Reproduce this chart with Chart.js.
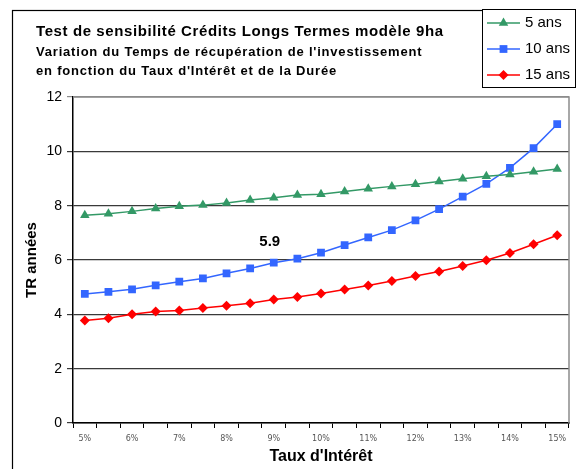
<!DOCTYPE html>
<html lang="fr">
<head>
<meta charset="utf-8">
<title>Test de sensibilité Crédits Longs Termes</title>
<script src="https://cdn.jsdelivr.net/npm/chart.js@4.4.0/dist/chart.umd.min.js"></script>
<style>
  html, body { margin: 0; padding: 0; background: #fff; }
  canvas { display: block; }
</style>
</head>
<body>
<canvas id="trChart" width="576" height="469"></canvas>
<script>
'use strict';

// DONNEES

// taux d'intérêt (catégories), seuls les taux entiers sont étiquetés
let tauxInteret = ['5%', '5,5%', '6%', '6,5%', '7%', '7,5%', '8%', '8,5%', '9%', '9,5%', '10%',
  '10,5%', '11%', '11,5%', '12%', '12,5%', '13%', '13,5%', '14%', '14,5%', '15%'];

// temps de récupération (années) par durée de crédit
let tr5ans = [7.65, 7.70, 7.79, 7.90, 7.98, 8.02, 8.10, 8.21, 8.29, 8.39, 8.42,
  8.52, 8.62, 8.71, 8.79, 8.89, 8.99, 9.08, 9.15, 9.25, 9.35];
let tr10ans = [4.75, 4.83, 4.92, 5.07, 5.20, 5.32, 5.51, 5.69, 5.9, 6.05, 6.27,
  6.55, 6.83, 7.10, 7.46, 7.87, 8.33, 8.80, 9.39, 10.12, 11.0];
let tr15ans = [3.77, 3.86, 4.00, 4.10, 4.14, 4.23, 4.32, 4.41, 4.55, 4.64, 4.77,
  4.91, 5.06, 5.23, 5.41, 5.58, 5.78, 5.99, 6.26, 6.58, 6.91];

let graduationsY = [0, 2, 4, 6, 8, 10, 12];

let titre = [
  'Test de sensibilité Crédits Longs Termes modèle 9ha',
  'Variation du Temps de récupération de l\'investissement',
  'en fonction du Taux d\'Intérêt et de la Durée'
];

// point de la série 10 ans dont la valeur est affichée
let indexEtiquette = 8;

// PLUGIN : cadre, titre, légende et étiquette

const cadrePlugin = {
  id: 'cadre',
  beforeDraw(chart) {
    let ctx = chart.ctx;
    ctx.save();
    ctx.fillStyle = '#fff';
    ctx.fillRect(0, 0, chart.width, chart.height);
    ctx.restore();
  },
  beforeDatasetsDraw(chart) {
    let ctx = chart.ctx;
    let area = chart.chartArea;
    ctx.save();
    ctx.strokeStyle = '#8c8c8c';
    ctx.lineWidth = 1.5;
    ctx.beginPath();
    ctx.moveTo(area.left, area.top);
    ctx.lineTo(area.right, area.top);
    ctx.lineTo(area.right, area.bottom);
    ctx.stroke();
    ctx.restore();
  },
  afterDraw(chart) {
    let ctx = chart.ctx;
    ctx.save();

    // cadre extérieur
    ctx.strokeStyle = '#000';
    ctx.lineWidth = 1.2;
    ctx.strokeRect(12.5, 10.5, 600, 500);

    // titre sur trois lignes
    ctx.fillStyle = '#000';
    ctx.textBaseline = 'middle';
    ctx.textAlign = 'left';
    ctx.font = 'bold 15px "Liberation Sans", Arial, sans-serif';
    ctx.letterSpacing = '0.6px';
    ctx.fillText(titre[0], 36, 32);
    ctx.font = 'bold 13px "Liberation Sans", Arial, sans-serif';
    ctx.letterSpacing = '0.8px';
    ctx.fillText(titre[1], 36, 52);
    ctx.fillText(titre[2], 36, 71);
    ctx.letterSpacing = '0px';

    // légende
    ctx.fillStyle = '#fff';
    ctx.fillRect(482, 9, 93, 78);
    ctx.strokeStyle = '#000';
    ctx.lineWidth = 1;
    ctx.strokeRect(482.5, 9.5, 93, 78);
    chart.data.datasets.forEach(function(ds, i) {
      let y = 23 + i * 26;
      ctx.strokeStyle = ds.borderColor;
      ctx.lineWidth = 1.5;
      ctx.beginPath();
      ctx.moveTo(487, y);
      ctx.lineTo(520, y);
      ctx.stroke();
      ctx.fillStyle = ds.backgroundColor;
      Chart.helpers.drawPoint(ctx, {pointStyle: ds.pointStyle, radius: ds.pointRadius, borderWidth: 0}, 503.5, y);
      ctx.fillStyle = '#000';
      ctx.font = '15px "Liberation Sans", Arial, sans-serif';
      ctx.fillText(ds.label, 525, y);
    });

    // valeur affichée au-dessus d'un point
    let pt = chart.getDatasetMeta(1).data[indexEtiquette];
    let valeur = chart.data.datasets[1].data[indexEtiquette];
    ctx.font = 'bold 15px "Liberation Sans", Arial, sans-serif';
    ctx.textAlign = 'center';
    ctx.fillStyle = '#000';
    ctx.fillText(valeur.toFixed(1), pt.x - 4, pt.y - 21);

    ctx.restore();
  }
};

// GRAPHIQUE

const data = {
  labels: tauxInteret,
  datasets: [
    {
      label: '5 ans',
      data: tr5ans,
      borderColor: '#339966',
      backgroundColor: '#339966',
      pointStyle: 'triangle',
      pointRadius: 5.5
    },
    {
      label: '10 ans',
      data: tr10ans,
      borderColor: '#3366ff',
      backgroundColor: '#3366ff',
      pointStyle: 'rect',
      pointRadius: 5.5
    },
    {
      label: '15 ans',
      data: tr15ans,
      borderColor: '#ff0000',
      backgroundColor: '#ff0000',
      pointStyle: 'rectRot',
      pointRadius: 5
    }
  ]
};

data.datasets.forEach(function(ds) {
  ds.borderWidth = 1.5;
  ds.pointBorderWidth = 0;
  ds.pointBorderColor = ds.borderColor;
  ds.pointBackgroundColor = ds.backgroundColor;
  ds.tension = 0;
});

const config = {
  type: 'line',
  data: data,
  options: {
    responsive: false,
    animation: false,
    layout: {
      padding: {left: 0, top: 97, right: 7, bottom: 0}
    },
    plugins: {
      legend: {display: false},
      tooltip: {enabled: false}
    },
    scales: {
      x: {
        offset: true,
        afterFit: function(scale) { scale.height = 46; },
        border: {color: '#000', width: 1.5},
        grid: {
          offset: true,
          drawOnChartArea: false,
          tickLength: 5,
          color: '#000'
        },
        ticks: {
          autoSkip: false,
          maxRotation: 0,
          padding: 6,
          color: '#555',
          font: {family: 'DejaVu Sans', size: 8},
          callback: function(value, index) {
            return index % 2 === 0 ? tauxInteret[index] : '';
          }
        },
        title: {
          display: true,
          text: 'Taux d\'Intérêt',
          color: '#000',
          font: {family: 'Liberation Sans', size: 16, weight: 'bold'},
          padding: {top: 0, bottom: 3}
        }
      },
      y: {
        min: graduationsY[0],
        max: graduationsY[graduationsY.length - 1],
        afterFit: function(scale) { scale.width = 73; },
        afterBuildTicks: function(scale) {
          scale.ticks = graduationsY.map(function(v) { return {value: v}; });
        },
        border: {color: '#000', width: 1.5},
        grid: {
          tickLength: 6,
          lineWidth: 1.2,
          color: function(c) { return c.tick && c.tick.value === 12 ? '#8c8c8c' : '#3a3a3a'; }
        },
        ticks: {
          padding: 5,
          color: '#000',
          font: {family: 'Liberation Sans', size: 14}
        },
        title: {
          display: true,
          text: 'TR années',
          color: '#000',
          font: {family: 'Liberation Sans', size: 15, weight: 'bold'},
          padding: {top: 23, bottom: 0}
        }
      }
    }
  },
  plugins: [cadrePlugin]
};

let canvas = document.getElementById('trChart').getContext('2d');
new Chart(canvas, config);
</script>
</body>
</html>
